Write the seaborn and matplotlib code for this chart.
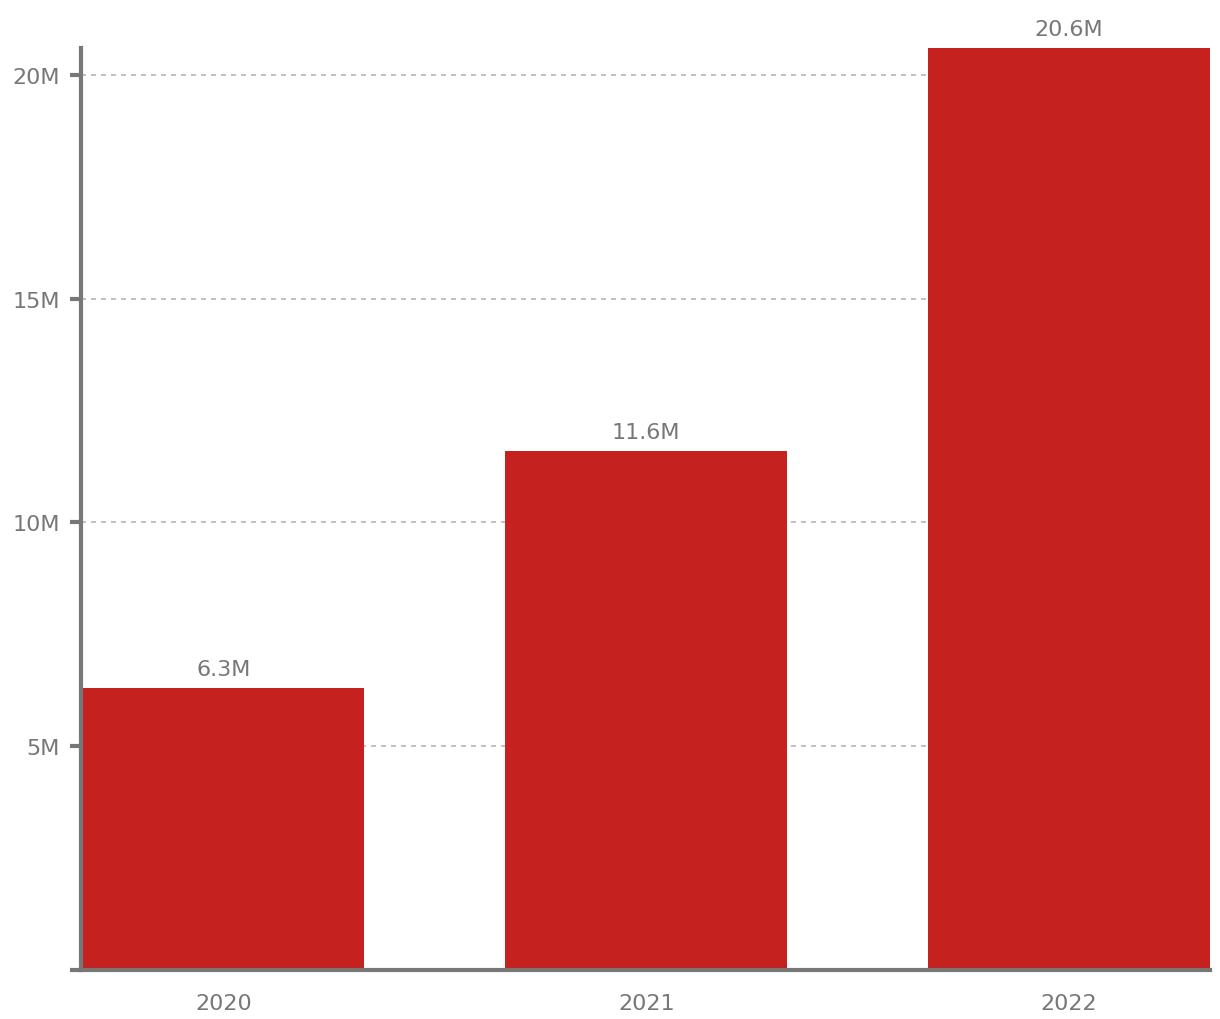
import matplotlib
matplotlib.use("Agg")
import matplotlib.pyplot as plt
import seaborn as sns
import pandas as pd

years = ["2020", "2021", "2022"]
values_m = [6.3, 11.6, 20.6]
labels = ["6.3M", "11.6M", "20.6M"]
yticks = [0, 5, 10, 15, 20]
yticklabels = ["", "5M", "10M", "15M", "20M"]

sns.set_theme(style="white")
plt.rcParams['font.family'] = ['DejaVu Sans']

df = pd.DataFrame({"year": years, "value": values_m})

fig = plt.figure(figsize=(12.2, 10.2), dpi=100)
ax = fig.add_axes([80.5/1220, 49.5/1020, 1129.5/1220, 921.5/1020])

sns.barplot(data=df, x="year", y="value", color="#C4211F", width=0.667,
            saturation=1, ax=ax, zorder=3)
for p in ax.patches:
    p.set_edgecolor("none")
    p.set_linewidth(0)

ax.set_xlim(-0.338, 2.333)
ax.set_ylim(0, 20.6)
ax.set_yticks(yticks)
ax.set_yticklabels(yticklabels)
ax.yaxis.grid(True, linestyle=(0, (3, 3)), color="#b0b8c0", linewidth=1.2, zorder=0)
ax.xaxis.grid(False)
ax.set_axisbelow(True)
ax.set_xlabel("")
ax.set_ylabel("")

for s in ["top", "right"]:
    ax.spines[s].set_visible(False)
for s in ["left", "bottom"]:
    ax.spines[s].set_color("#777777")
    ax.spines[s].set_linewidth(3)
    ax.spines[s].set_zorder(5)

ax.tick_params(axis="y", which="major", left=True, length=8, width=3,
               color="#777777", labelcolor="#777777", labelsize=16, pad=7)
ax.tick_params(axis="x", which="major", bottom=False, labelcolor="#777777",
               labelsize=16, pad=11)

for i, (v, lab) in enumerate(zip(values_m, labels)):
    ax.annotate(lab, (i, v), xytext=(0, 9), textcoords="offset pixels",
                ha="center", va="bottom", color="#777777", fontsize=16,
                annotation_clip=False)

fig.savefig("out.png", dpi=100)
